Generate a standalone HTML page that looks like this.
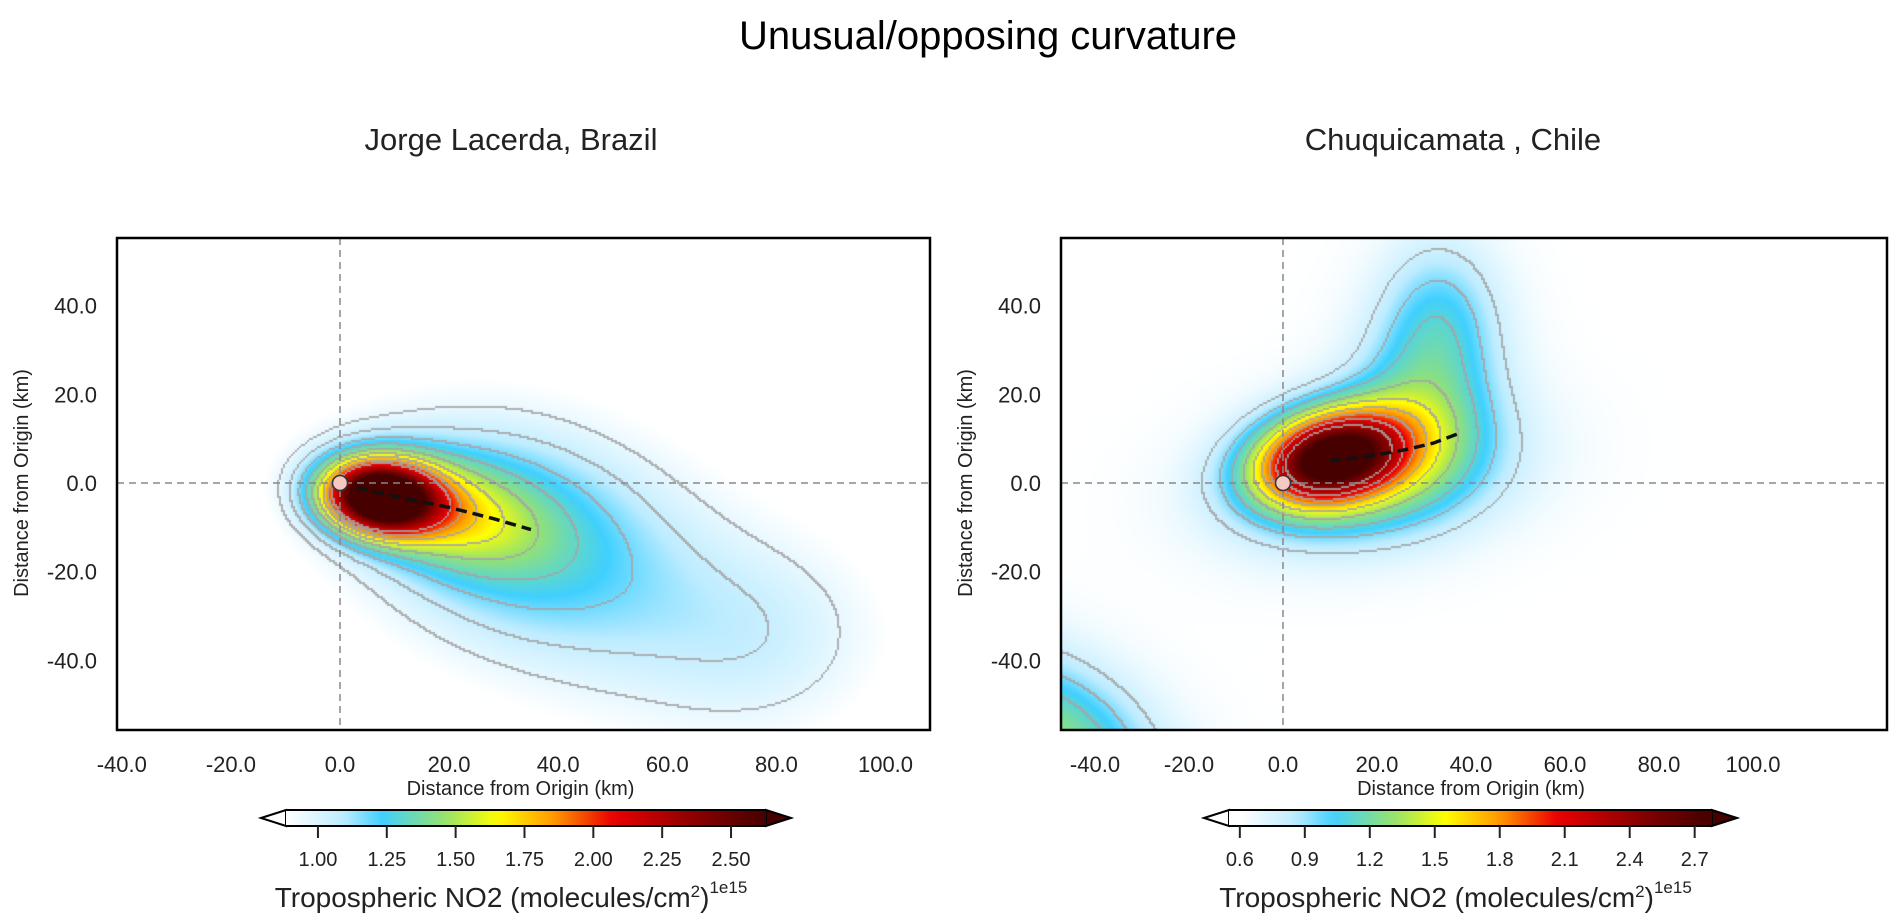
<!DOCTYPE html>
<html><head><meta charset="utf-8">
<style>
body{margin:0;background:#fff;width:1894px;height:922px;position:relative;overflow:hidden;font-family:"Liberation Sans",Arial,sans-serif;color:#222}
.t{position:absolute;white-space:nowrap}
canvas{position:absolute}
svg{position:absolute;left:0;top:0}
</style></head>
<body>
<div class="t" style="left:0;width:1976px;top:14px;text-align:center;font-size:40px;color:#000">Unusual/opposing curvature</div>
<div class="t" style="left:311px;width:400px;top:122px;text-align:center;font-size:31px">Jorge Lacerda, Brazil</div>
<div class="t" style="left:1253px;width:400px;top:122px;text-align:center;font-size:31px">Chuquicamata , Chile</div>
<canvas id="cL" width="813" height="492" style="left:117px;top:238px"></canvas>
<canvas id="cR" width="826" height="492" style="left:1061px;top:238px"></canvas>
<svg id="ov" width="1894" height="922"></svg>
<script>
// ---- data ----
const leftBlobX=[7,16,28,52,80];
const leftBlobY=[-3,-5,-9,-24,-35];
const leftBlobSX=[7,13,20,25,15];
const leftBlobSY=[5.5,8,17,20,16];
const leftBlobAng=[-10,-20,-30,-35,-40];
const leftBlobAmp=[1.9,0.55,0.38,0.22,0.14];
const leftBase=0.8;
const leftLevels=[0.96,1.06,1.18,1.31,1.45,1.6,1.75,1.9,2.05];
const leftTrackX=[3,10,20,28,35];
const leftTrackY=[-1,-3,-5.5,-8,-10.5];
const leftCbTicks=[1.00,1.25,1.50,1.75,2.00,2.25,2.50];
const leftCbLabels=["1.00","1.25","1.50","1.75","2.00","2.25","2.50"];

const rightBlobX=[10,18,30,33,-50];
const rightBlobY=[6,2,20,40,-58];
const rightBlobSX=[11,20,11,9,18];
const rightBlobSY=[7,11,14,12,12];
const rightBlobAng=[15,10,-10,0,-35];
const rightBlobAmp=[2.0,0.6,0.45,0.3,0.7];
const rightBase=0.6;
const rightLevels=[0.8,0.95,1.1,1.3,1.5,1.7,1.9,2.1,2.35];
const rightTrackX=[10,18,26,32,37];
const rightTrackY=[5,6,7.5,9,11];
const rightCbTicks=[0.6,0.9,1.2,1.5,1.8,2.1,2.4,2.7];
const rightCbLabels=["0.6","0.9","1.2","1.5","1.8","2.1","2.4","2.7"];

const xTicks=[-40,-20,0,20,40,60,80,100];
const yTicks=[-40,-20,0,20,40];

const plots=[
 {id:'cL',name:'left',bx:117,by:238,bw:813,bh:492,x0:340,kx:5.455,bx_:leftBlobX,by_:leftBlobY,sx:leftBlobSX,sy:leftBlobSY,ang:leftBlobAng,amp:leftBlobAmp,base:leftBase,vmin:0.884,vmax:2.627,lev:leftLevels,tx:leftTrackX,ty:leftTrackY,
  cbL:286,cbR:766,cbT:810,cbB:826,cbTicks:leftCbTicks,cbLabels:leftCbLabels,cbV0:0.884,cbV1:2.627},
 {id:'cR',name:'right',bx:1061,by:238,bw:826,bh:492,x0:1283,kx:4.70,bx_:rightBlobX,by_:rightBlobY,sx:rightBlobSX,sy:rightBlobSY,ang:rightBlobAng,amp:rightBlobAmp,base:rightBase,vmin:0.6,vmax:2.75,lev:rightLevels,tx:rightTrackX,ty:rightTrackY,
  cbL:1229,cbR:1712,cbT:810,cbB:826,cbTicks:rightCbTicks,cbLabels:rightCbLabels,cbV0:0.55,cbV1:2.78}
];
const y0=483, ky=4.435;
const stops=[[0,[255,255,255]],[0.12,[190,236,255]],[0.2,[64,208,255]],[0.33,[150,226,110]],[0.44,[255,255,0]],[0.56,[255,150,0]],[0.68,[235,0,0]],[0.85,[140,0,0]],[1,[70,0,0]]];
function cmap(t){t=Math.max(0,Math.min(1,t));for(let i=1;i<stops.length;i++){if(t<=stops[i][0]){const a=stops[i-1],b=stops[i];const f=(t-a[0])/(b[0]-a[0]);return a[1].map((v,k)=>Math.round(v+(b[1][k]-v)*f));}}return stops[stops.length-1][1];}
const NS='http://www.w3.org/2000/svg';
const ov=document.getElementById('ov');
function el(tag,attrs){const e=document.createElementNS(NS,tag);for(const k in attrs)e.setAttribute(k,attrs[k]);ov.appendChild(e);return e;}

plots.forEach(p=>{
 const cv=document.getElementById(p.id),ctx=cv.getContext('2d');
 const W=p.bw,H=p.bh,S=2,gw=Math.ceil(W/S)+1,gh=Math.ceil(H/S)+1;
 const g=new Float32Array(gw*gh);
 for(let j=0;j<gh;j++)for(let i=0;i<gw;i++){
  const px=p.bx+i*S,py=p.by+j*S;const X=(px-p.x0)/p.kx,Y=(y0-py)/ky;
  let v=p.base;
  for(let b=0;b<p.amp.length;b++){const a=p.ang[b]*Math.PI/180,dx=X-p.bx_[b],dy=Y-p.by_[b];
   const u=dx*Math.cos(a)+dy*Math.sin(a),w=-dx*Math.sin(a)+dy*Math.cos(a);
   v+=p.amp[b]*Math.exp(-0.5*(u*u/(p.sx[b]*p.sx[b])+w*w/(p.sy[b]*p.sy[b])));}
  g[j*gw+i]=v;}
 const img=ctx.createImageData(W,H);
 for(let y=0;y<H;y++)for(let x=0;x<W;x++){const v=g[Math.floor(y/S)*gw+Math.floor(x/S)];const c=cmap((v-p.vmin)/(p.vmax-p.vmin));const o=(y*W+x)*4;img.data[o]=c[0];img.data[o+1]=c[1];img.data[o+2]=c[2];img.data[o+3]=255;}
 ctx.putImageData(img,0,0);
 ctx.fillStyle='rgba(165,165,165,0.85)';
 const L=v=>{let n=0;for(const l of p.lev)if(v>=l)n++;return n;};
 for(let j=0;j<gh-1;j++)for(let i=0;i<gw-1;i++){const a=L(g[j*gw+i]);if(a!==L(g[j*gw+i+1])||a!==L(g[(j+1)*gw+i]))ctx.fillRect(i*S,j*S,2,2);}
 const ox=p.x0;
 let e=el('line',{x1:ox,y1:p.by,x2:ox,y2:p.by+p.bh,stroke:'#888','stroke-width':1.5,'stroke-dasharray':'7,5'});
 
 e=el('line',{x1:p.bx,y1:y0,x2:p.bx+p.bw,y2:y0,stroke:'#888','stroke-width':1.5,'stroke-dasharray':'7,5'});
 
 let d='';p.tx.forEach((x,k)=>{d+=(k?'L':'M')+(p.x0+x*p.kx)+','+(y0-p.ty[k]*ky);});
 e=el('path',{d:d,fill:'none',stroke:'#111','stroke-width':3.5,'stroke-dasharray':'11,6'});
 
 e=el('circle',{cx:p.x0,cy:y0,r:7.5,fill:'#f3c9c2',stroke:'#333','stroke-width':1.5});
 
 e=el('rect',{x:p.bx,y:p.by,width:p.bw,height:p.bh,fill:'none',stroke:'#000','stroke-width':2.5});
 
 xTicks.forEach(t=>{const x=p.x0+t*p.kx;const tx=el('text',{x:x,y:772,'text-anchor':'middle','font-size':22,fill:'#222'});tx.textContent=t.toFixed(1);
  });
 yTicks.forEach(t=>{const y=y0-t*ky;const tx=el('text',{x:p.bx-20,y:y+8,'text-anchor':'end','font-size':22,fill:'#222'});tx.textContent=t.toFixed(1);
  });
 let tx=el('text',{x:p.bx+p.bw/2-3,y:795,'text-anchor':'middle','font-size':20,fill:'#222'});tx.textContent='Distance from Origin (km)';
 
 const yl=p.bx-89;
 tx=el('text',{x:yl,y:y0,'text-anchor':'middle','font-size':20,fill:'#222',transform:'rotate(-90 '+yl+' '+y0+')'});tx.textContent='Distance from Origin (km)';
 
 const gid='g'+p.name;const defs=el('defs',{});const lg=document.createElementNS(NS,'linearGradient');lg.setAttribute('id',gid);defs.appendChild(lg);
 for(let k=0;k<=40;k++){const t=k/40;const v=p.cbV0+(p.cbV1-p.cbV0)*t;const c=cmap((v-p.vmin)/(p.vmax-p.vmin));const s=document.createElementNS(NS,'stop');s.setAttribute('offset',t);s.setAttribute('stop-color','rgb('+c+')');lg.appendChild(s);}
 const cy=(p.cbT+p.cbB)/2,tw=25;
 e=el('polygon',{points:`${p.cbL-tw},${cy} ${p.cbL},${p.cbT} ${p.cbL},${p.cbB}`,fill:'#fff',stroke:'#000','stroke-width':2});
 
 const hi=cmap(1);
 e=el('polygon',{points:`${p.cbR+tw},${cy} ${p.cbR},${p.cbT} ${p.cbR},${p.cbB}`,fill:'rgb('+hi+')',stroke:'#000','stroke-width':2});
 
 e=el('rect',{x:p.cbL,y:p.cbT,width:p.cbR-p.cbL,height:p.cbB-p.cbT,fill:'url(#'+gid+')'});
 
 e=el('path',{d:`M${p.cbL},${p.cbT}H${p.cbR}M${p.cbL},${p.cbB}H${p.cbR}`,stroke:'#000','stroke-width':2});
 p.cbTicks.forEach((t,k)=>{const x=p.cbL+(t-p.cbV0)/(p.cbV1-p.cbV0)*(p.cbR-p.cbL);
  el('line',{x1:x,y1:p.cbB,x2:x,y2:p.cbB+12,stroke:'#222','stroke-width':2});
  const q=el('text',{x:x,y:866,'text-anchor':'middle','font-size':20,fill:'#222'});q.textContent=p.cbLabels[k];
  });
 const cx=(p.cbL+p.cbR)/2;
 tx=el('text',{x:cx-15,y:907,'text-anchor':'middle','font-size':28,fill:'#222'});
 tx.innerHTML='Tropospheric NO2 (molecules/cm<tspan dy="-10" font-size="17">2</tspan><tspan dy="10">)</tspan><tspan dy="-14" font-size="17">1e15</tspan>';
 
});
</script>
</body></html>
